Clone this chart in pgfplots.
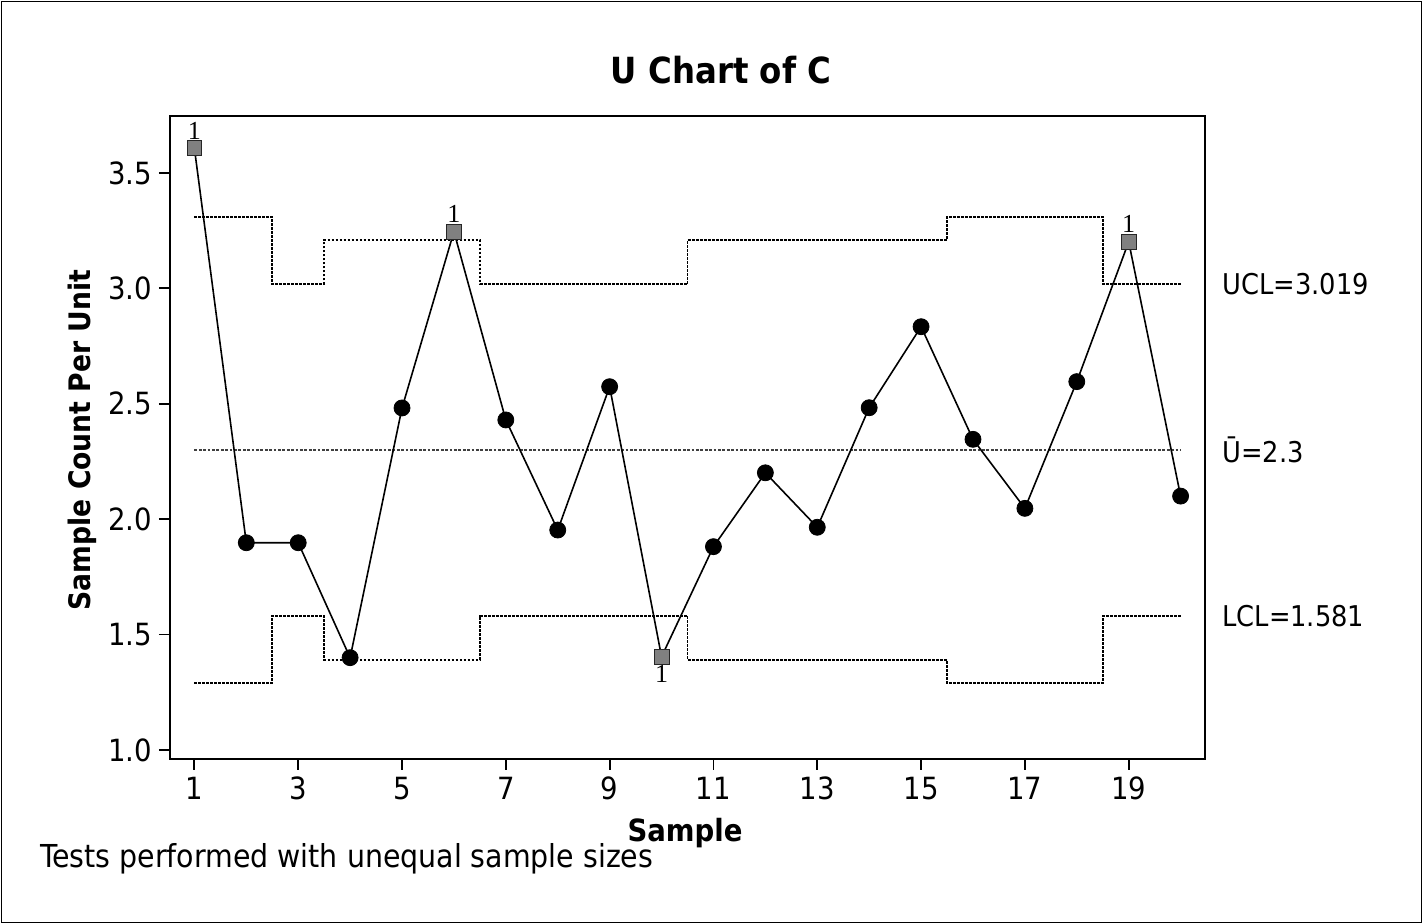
\documentclass[border=0pt]{standalone}
\usepackage{pgfplots}
\pgfplotsset{compat=1.18}
\usepackage{fontspec}
\setmainfont{DejaVu Sans Condensed}
\newfontfamily\serifone{Liberation Serif}
\begin{document}
\begin{tikzpicture}
\useasboundingbox (0pt,0pt) rectangle (711.5pt,462pt);
\draw[line width=0.8pt] (0.8pt,0.8pt) rectangle (710.7pt,461.2pt);
\begin{axis}[
  scale only axis, width=517.5pt, height=321.5pt,
  at={(85pt,82.5pt)}, anchor=south west,
  xmin=0.53, xmax=20.47, ymin=0.961, ymax=3.747,
  axis line style={line width=1pt},
  xtick={1,3,...,19},
  ytick={1,1.5,2,2.5,3,3.5},
  tick align=outside, tick pos=left,
  major tick length=5.5pt,
  tick style={line width=0.9pt, black},
  yticklabel style={/pgf/number format/.cd, fixed, fixed zerofill, precision=1},
  ticklabel style={font=\fontsize{15.3}{15.3}\selectfont},
  /pgf/number format/assume math mode=true,
  clip=false,
]
% control limits
\addplot[black, line width=0.9pt, dash pattern=on 1.4pt off 0.6pt] coordinates {
 (1,3.31) (2.5,3.31) (2.5,3.02) (3.5,3.02) (3.5,3.21) (6.5,3.21) (6.5,3.02)
 (10.5,3.02) (10.5,3.21) (15.5,3.21) (15.5,3.31) (18.5,3.31) (18.5,3.02) (20,3.02)};
\addplot[black, line width=0.9pt, dash pattern=on 1.4pt off 0.6pt] coordinates {
 (1,1.29) (2.5,1.29) (2.5,1.58) (3.5,1.58) (3.5,1.39) (6.5,1.39) (6.5,1.58)
 (10.5,1.58) (10.5,1.39) (15.5,1.39) (15.5,1.29) (18.5,1.29) (18.5,1.58) (20,1.58)};
\addplot[black!75, line width=0.8pt, dash pattern=on 1.4pt off 0.8pt] coordinates {(1,2.3) (20,2.3)};
% data line
\addplot[black, line width=0.8pt] coordinates {
 (1,3.607) (2,1.898) (3,1.898) (4,1.40) (5,2.482) (6,3.246) (7,2.43) (8,1.953)
 (9,2.574) (10,1.404) (11,1.881) (12,2.201) (13,1.965) (14,2.483) (15,2.834)
 (16,2.346) (17,2.047) (18,2.596) (19,3.202) (20,2.10)};
% in-control points
\addplot[only marks, mark=*, mark size=4pt, mark options={fill=black, draw=black}] coordinates {
 (2,1.898) (3,1.898) (4,1.40) (5,2.482) (7,2.43) (8,1.953)
 (9,2.574) (11,1.881) (12,2.201) (13,1.965) (14,2.483) (15,2.834)
 (16,2.346) (17,2.047) (18,2.596) (20,2.10)};
% out-of-control points
\addplot[only marks, mark=square*, mark size=3.7pt, mark options={fill=black!50, draw=black!85, line width=0.4pt},
  nodes near coords={1}, every node near coord/.append style={font=\serifone\fontsize{13}{13}\selectfont, anchor=south, yshift=1pt}]
  coordinates {(1,3.607) (6,3.246) (19,3.202)};
\addplot[only marks, mark=square*, mark size=3.7pt, mark options={fill=black!50, draw=black!85, line width=0.4pt},
  nodes near coords={1}, every node near coord/.append style={font=\serifone\fontsize{13}{13}\selectfont, anchor=north, yshift=-1pt}]
  coordinates {(10,1.404)};
% limit labels
\node[anchor=west, font=\fontsize{14.3}{14.3}\selectfont, inner sep=0pt] at (axis cs:20.47,3.019) [xshift=8.5pt] {UCL=3.019};
\node[anchor=west, font=\fontsize{14.3}{14.3}\selectfont, inner sep=0pt] at (axis cs:20.47,2.3) [xshift=8.5pt] {Ū=2.3};
\node[anchor=west, font=\fontsize{14.3}{14.3}\selectfont, inner sep=0pt] at (axis cs:20.47,1.581) [xshift=8.5pt] {LCL=1.581};
\end{axis}
\node[anchor=base, font=\bfseries\fontsize{18}{18}\selectfont] at (360.5pt,420pt) {U Chart of C};
\node[anchor=base, font=\bfseries\fontsize{15.3}{15.3}\selectfont] at (342.5pt,41pt) {Sample};
\node[rotate=90, font=\bfseries\fontsize{14.8}{14.8}\selectfont] at (41pt,242pt) {Sample Count Per Unit};
\node[anchor=base west, inner sep=0pt, font=\fontsize{15.8}{15.8}\selectfont] at (20pt,28pt) {Tests performed with unequal sample sizes};
\end{tikzpicture}
\end{document}
